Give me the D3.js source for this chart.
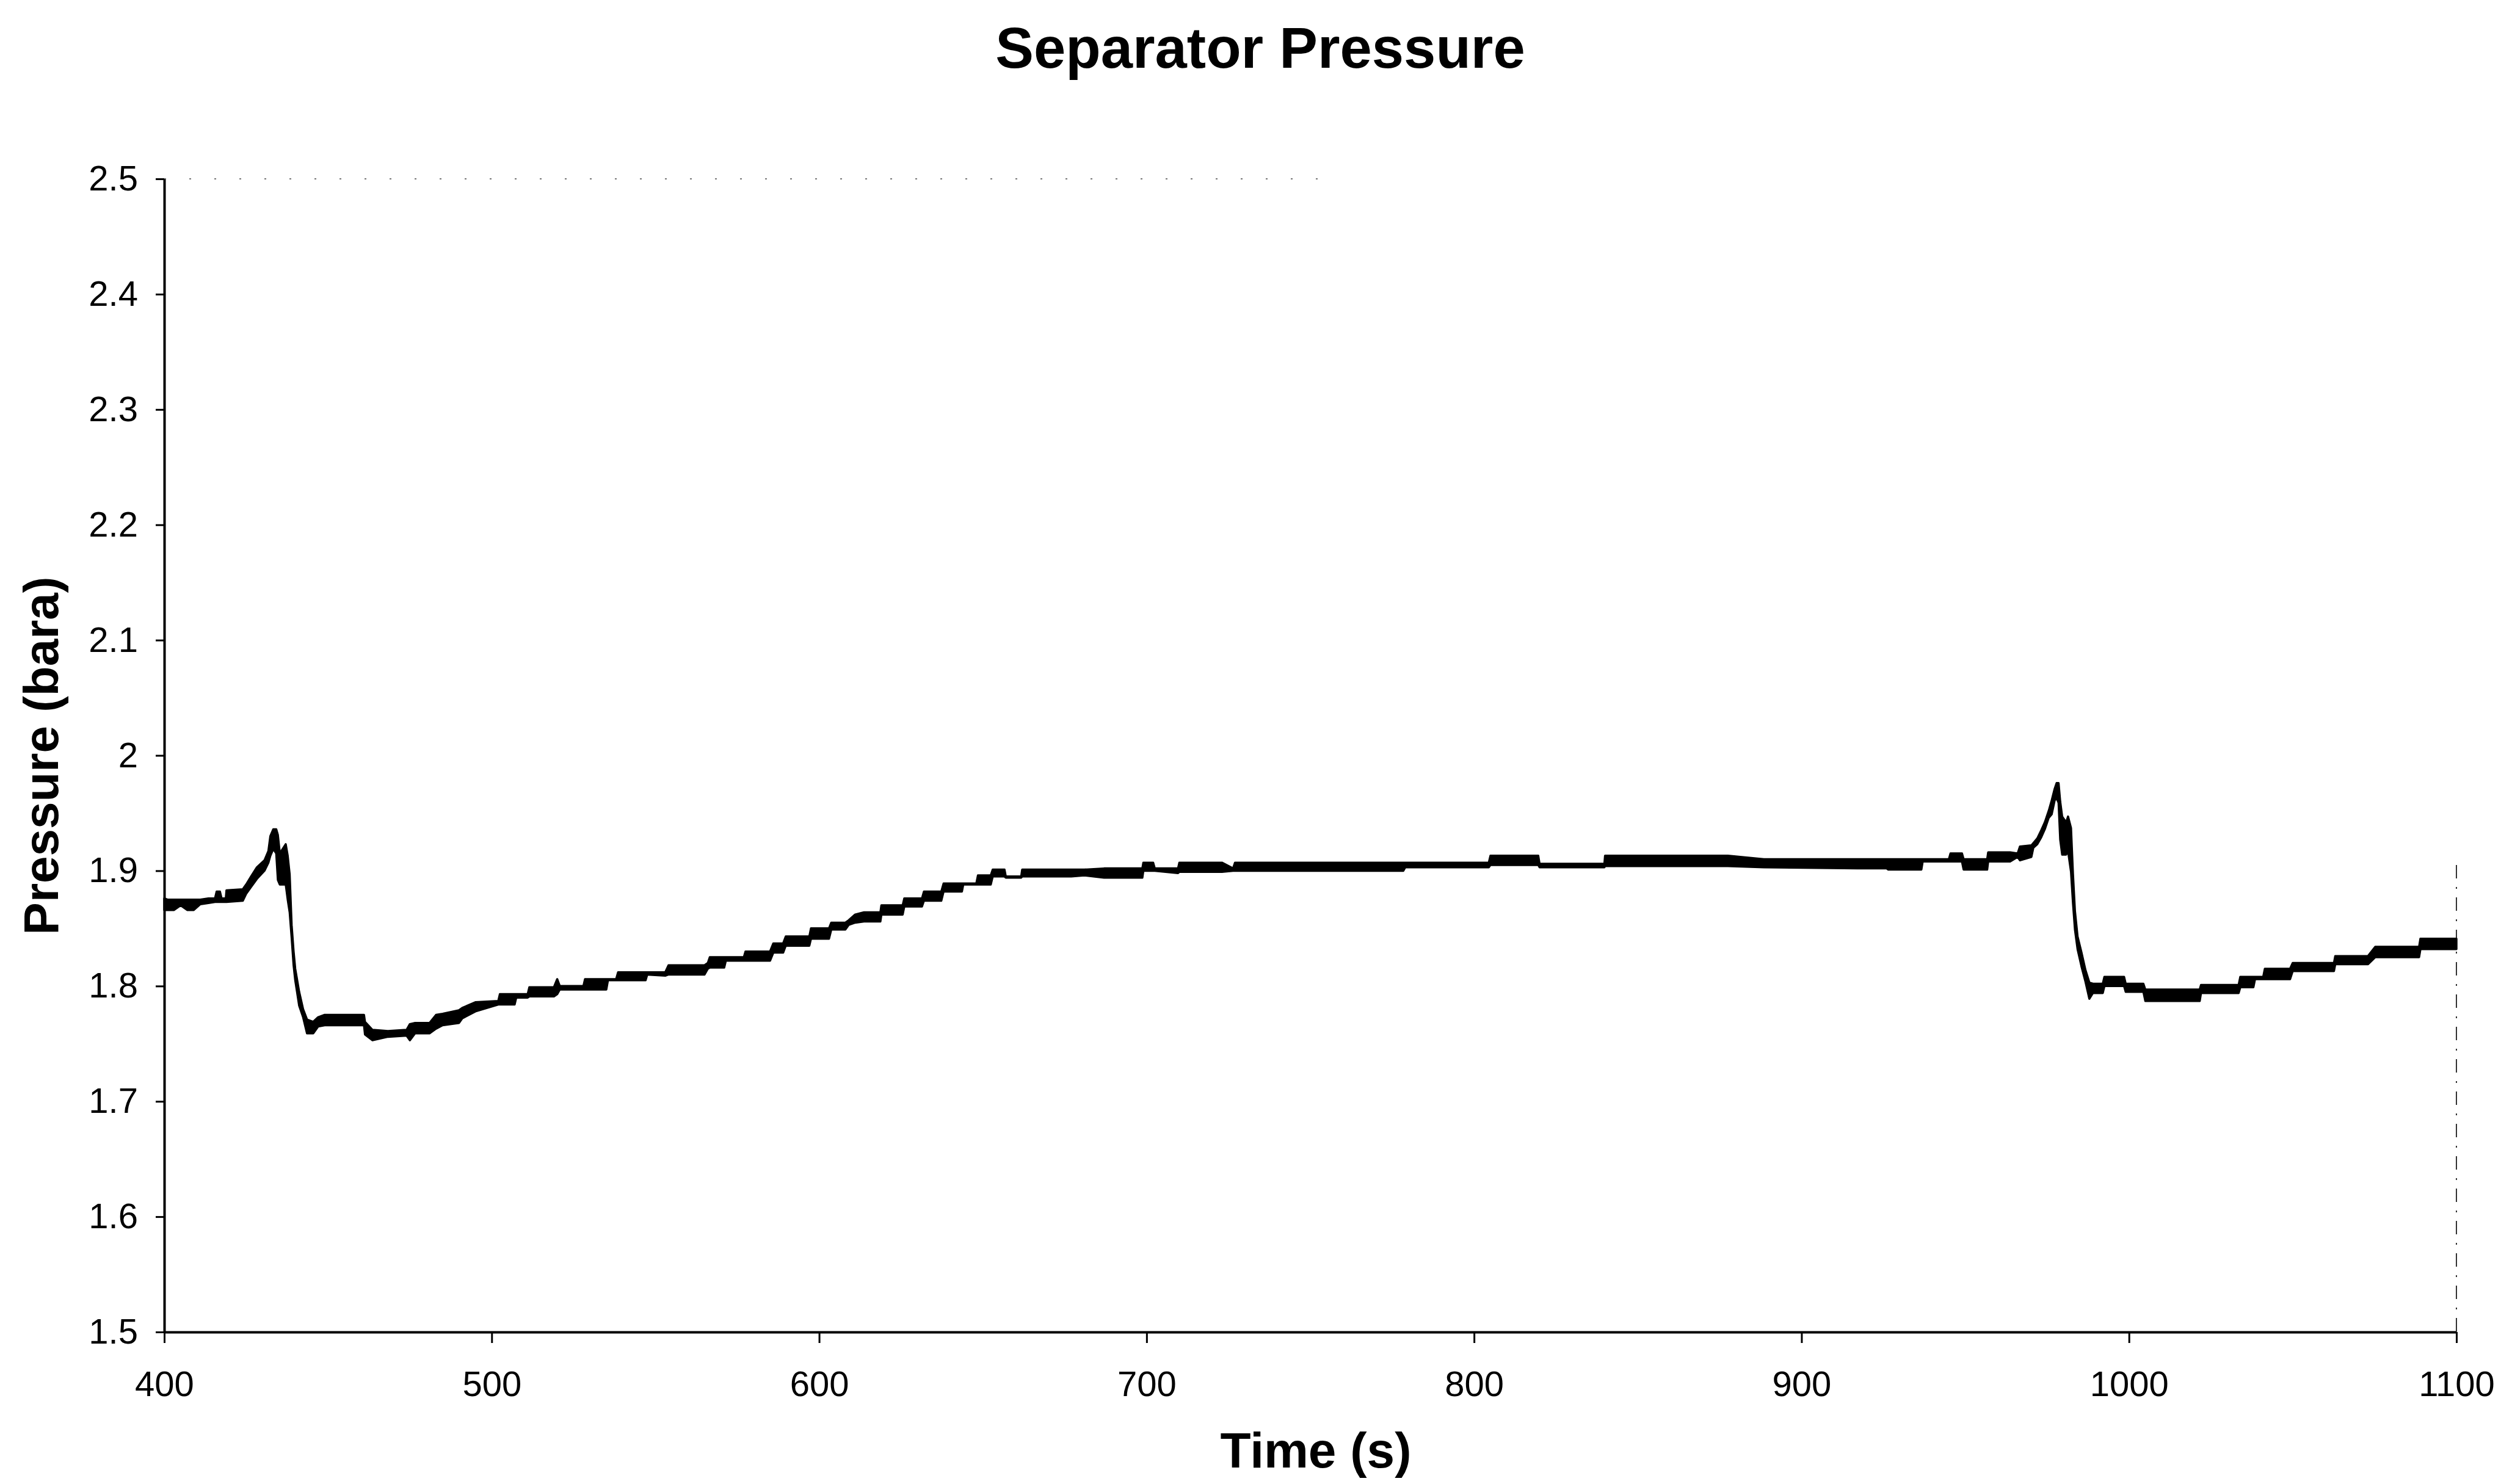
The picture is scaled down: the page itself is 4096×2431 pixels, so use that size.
<!DOCTYPE html>
<html>
<head>
<meta charset="utf-8">
<script src="https://cdn.jsdelivr.net/npm/d3@7"></script>
<style>
  html, body { margin: 0; padding: 0; background: #fff; }
</style>
</head>
<body>
<script>
// axis ticks
const xTicks = [400, 500, 600, 700, 800, 900, 1000, 1100];
const xTickLabels = ["400", "500", "600", "700", "800", "900", "1000", "1100"];
const yTicks = [1.5, 1.6, 1.7, 1.8, 1.9, 2.0, 2.1, 2.2, 2.3, 2.4, 2.5];
const yTickLabels = ["1.5", "1.6", "1.7", "1.8", "1.9", "2", "2.1", "2.2", "2.3", "2.4", "2.5"];

// separator pressure trace: [time (s), lowest, highest] (bara)
// the recorded signal chatters between two levels, so each sample keeps its band
const samples = [
  [400, 1.866, 1.876], [401, 1.866, 1.875], [403, 1.866, 1.875], [405, 1.870, 1.875],
  [407, 1.866, 1.875], [409, 1.866, 1.875], [411, 1.871, 1.875], [413.5, 1.872, 1.876],
  [415.5, 1.873, 1.876], [416, 1.873, 1.882], [417, 1.873, 1.882], [417.5, 1.873, 1.876],
  [418.8, 1.873, 1.876], [419, 1.873, 1.883], [424, 1.874, 1.884], [425, 1.880, 1.888],
  [426.5, 1.886, 1.895], [428.3, 1.893, 1.903], [430.6, 1.900, 1.909], [431.8, 1.907, 1.917],
  [432.4, 1.913, 1.930], [433.3, 1.919, 1.936], [434.2, 1.915, 1.936], [434.7, 1.892, 1.931],
  [435.3, 1.888, 1.915], [436.2, 1.888, 1.919], [437.1, 1.888, 1.923], [437.7, 1.875, 1.913],
  [438.3, 1.864, 1.897], [438.9, 1.842, 1.853], [439.5, 1.818, 1.830], [440, 1.805, 1.815],
  [441.2, 1.783, 1.795], [442.4, 1.773, 1.780], [443.6, 1.759, 1.771], [445.5, 1.759, 1.769],
  [447, 1.765, 1.773], [449, 1.766, 1.775], [461, 1.766, 1.775], [461.3, 1.758, 1.769],
  [463.6, 1.753, 1.762], [468.3, 1.756, 1.761], [474, 1.757, 1.762], [475, 1.753, 1.767],
  [476.6, 1.759, 1.768], [481, 1.759, 1.768], [483, 1.763, 1.775], [485, 1.766, 1.776],
  [490, 1.768, 1.779], [491, 1.772, 1.781], [495, 1.778, 1.786], [502, 1.784, 1.787],
  [502.5, 1.784, 1.793], [507, 1.784, 1.793], [507.5, 1.790, 1.793], [511, 1.790, 1.793],
  [511.5, 1.791, 1.799], [519, 1.791, 1.799], [520, 1.793, 1.806], [520.8, 1.797, 1.800],
  [528, 1.797, 1.800], [528.5, 1.797, 1.806], [535, 1.797, 1.806], [535.5, 1.805, 1.806],
  [538, 1.805, 1.806], [538.6, 1.805, 1.812], [547, 1.805, 1.812], [547.5, 1.810, 1.812],
  [553, 1.809, 1.812], [554, 1.810, 1.818], [565, 1.810, 1.818], [566, 1.815, 1.820],
  [566.6, 1.816, 1.825], [571, 1.816, 1.825], [571.5, 1.822, 1.825], [577, 1.822, 1.825],
  [577.5, 1.822, 1.830], [585, 1.822, 1.830], [586, 1.829, 1.837], [589, 1.829, 1.837],
  [589.8, 1.835, 1.843], [597, 1.835, 1.843], [597.5, 1.841, 1.850], [603, 1.841, 1.850],
  [603.7, 1.849, 1.855], [608, 1.849, 1.855], [609, 1.853, 1.857], [611, 1.855, 1.862],
  [613.7, 1.856, 1.864], [618.7, 1.856, 1.864], [619, 1.862, 1.870], [625.5, 1.862, 1.870],
  [626, 1.869, 1.876], [631.4, 1.869, 1.876], [632, 1.874, 1.882], [637.3, 1.874, 1.882],
  [638, 1.882, 1.889], [643.6, 1.882, 1.889], [644, 1.888, 1.889], [648, 1.888, 1.889],
  [648.5, 1.888, 1.896], [652.4, 1.888, 1.896], [653, 1.895, 1.901], [656.6, 1.895, 1.901],
  [657, 1.894, 1.895], [661.7, 1.894, 1.895], [662, 1.895, 1.901], [677, 1.895, 1.901],
  [681, 1.896, 1.901], [687, 1.894, 1.902], [698.7, 1.894, 1.902], [699, 1.900, 1.907],
  [702, 1.900, 1.907], [702.5, 1.900, 1.902], [709.6, 1.898, 1.902], [710, 1.899, 1.907],
  [723, 1.899, 1.907], [726.4, 1.900, 1.902], [727, 1.900, 1.907], [778.4, 1.900, 1.907],
  [779, 1.903, 1.907], [804.5, 1.903, 1.907], [805, 1.905, 1.913], [819.6, 1.905, 1.913],
  [820, 1.903, 1.906], [839.8, 1.903, 1.906], [840, 1.904, 1.913], [877.5, 1.904, 1.913],
  [888.5, 1.903, 1.910], [917, 1.902, 1.910], [926, 1.902, 1.910], [926.5, 1.901, 1.910],
  [936.6, 1.901, 1.910], [937, 1.908, 1.910], [945, 1.908, 1.910], [945.5, 1.908, 1.915],
  [949, 1.908, 1.915], [949.5, 1.901, 1.910], [956.7, 1.901, 1.910], [957, 1.908, 1.916],
  [963.7, 1.908, 1.916], [966, 1.912, 1.915], [966.7, 1.909, 1.921], [970.2, 1.912, 1.922],
  [970.8, 1.920, 1.924], [972, 1.923, 1.928], [973.2, 1.929, 1.935], [974.3, 1.936, 1.942],
  [975.5, 1.946, 1.952], [976.4, 1.949, 1.961], [977.3, 1.961, 1.971], [977.9, 1.963, 1.976],
  [978.5, 1.959, 1.976], [979, 1.927, 1.960], [979.6, 1.914, 1.947], [980.8, 1.914, 1.942],
  [981.4, 1.917, 1.947], [982.3, 1.899, 1.937], [982.9, 1.872, 1.897], [983.5, 1.849, 1.865],
  [984.3, 1.832, 1.843], [985.5, 1.817, 1.829], [986.7, 1.804, 1.814], [987.9, 1.789, 1.803],
  [989, 1.794, 1.802], [992, 1.794, 1.802], [992.5, 1.800, 1.808], [998.5, 1.800, 1.808],
  [999, 1.795, 1.802], [1004.4, 1.795, 1.802], [1005, 1.787, 1.797], [1021.6, 1.787, 1.797],
  [1022, 1.794, 1.801], [1033.5, 1.794, 1.801], [1034, 1.799, 1.808], [1038, 1.799, 1.808],
  [1038.5, 1.806, 1.808], [1041, 1.806, 1.808], [1041.5, 1.806, 1.815], [1049.2, 1.806, 1.815],
  [1050, 1.813, 1.820], [1062.6, 1.813, 1.820], [1063, 1.819, 1.826], [1073, 1.819, 1.826],
  [1075.2, 1.825, 1.834], [1088.6, 1.825, 1.834], [1089, 1.832, 1.841], [1100, 1.832, 1.841]
];

const width = 4096;
const height = 2431;
const plot = { left: 269, right: 4023, top: 293, bottom: 2182 };
const font = "'Liberation Sans', Arial, Helvetica, sans-serif";

const x = d3.scaleLinear().domain([400, 1100]).range([plot.left, plot.right]);
const y = d3.scaleLinear().domain([1.5, 2.5]).range([plot.bottom, plot.top]);

const svg = d3.select("body").append("svg")
  .attr("width", width)
  .attr("height", height)
  .style("display", "block")
  .style("background", "#fff");

// faint scan remnants of the plot frame: dotted top edge, broken right edge
svg.append("line")
  .attr("x1", x(400)).attr("x2", x(755))
  .attr("y1", y(2.5)).attr("y2", y(2.5))
  .attr("stroke", "#777").attr("stroke-width", 2)
  .attr("stroke-dasharray", "3,38");

svg.append("line")
  .attr("x1", x(1100)).attr("x2", x(1100))
  .attr("y1", y(1.905)).attr("y2", y(1.5))
  .attr("stroke", "#333").attr("stroke-width", 2)
  .attr("stroke-dasharray", "22,14,3,14");

// pressure trace
const band = d3.area()
  .x(d => x(d[0]))
  .y0(d => y(d[1]))
  .y1(d => y(d[2]));

svg.append("path")
  .datum(samples)
  .attr("d", band)
  .attr("fill", "#000")
  .attr("stroke", "#000")
  .attr("stroke-width", 3.5)
  .attr("stroke-linejoin", "round");

// axes
const yAxis = svg.append("g")
  .attr("transform", `translate(${plot.left},0)`)
  .call(d3.axisLeft(y)
    .tickValues(yTicks)
    .tickFormat((d, i) => yTickLabels[i])
    .tickSize(14)
    .tickSizeOuter(0)
    .tickPadding(29));

const xAxis = svg.append("g")
  .attr("transform", `translate(0,${plot.bottom})`)
  .call(d3.axisBottom(x)
    .tickValues(xTicks)
    .tickFormat((d, i) => xTickLabels[i])
    .tickSize(18)
    .tickSizeOuter(0)
    .tickPadding(46));

[yAxis, xAxis].forEach(g => {
  g.select(".domain").attr("stroke", "#000").attr("stroke-width", 4);
  g.selectAll(".tick line").attr("stroke", "#000").attr("stroke-width", 3);
  g.selectAll(".tick text")
    .attr("fill", "#000")
    .style("font-family", font)
    .style("font-size", "58px");
});

// titles
svg.append("text")
  .attr("x", 2064).attr("y", 111)
  .attr("text-anchor", "middle")
  .style("font-family", font)
  .style("font-weight", "bold")
  .style("font-size", "94px")
  .text("Separator Pressure");

svg.append("text")
  .attr("x", 2155).attr("y", 2404)
  .attr("text-anchor", "middle")
  .style("font-family", font)
  .style("font-weight", "bold")
  .style("font-size", "82px")
  .text("Time (s)");

svg.append("text")
  .attr("transform", `translate(95,1238) rotate(-90)`)
  .attr("text-anchor", "middle")
  .style("font-family", font)
  .style("font-weight", "bold")
  .style("font-size", "80px")
  .text("Pressure (bara)");
</script>
</body>
</html>
